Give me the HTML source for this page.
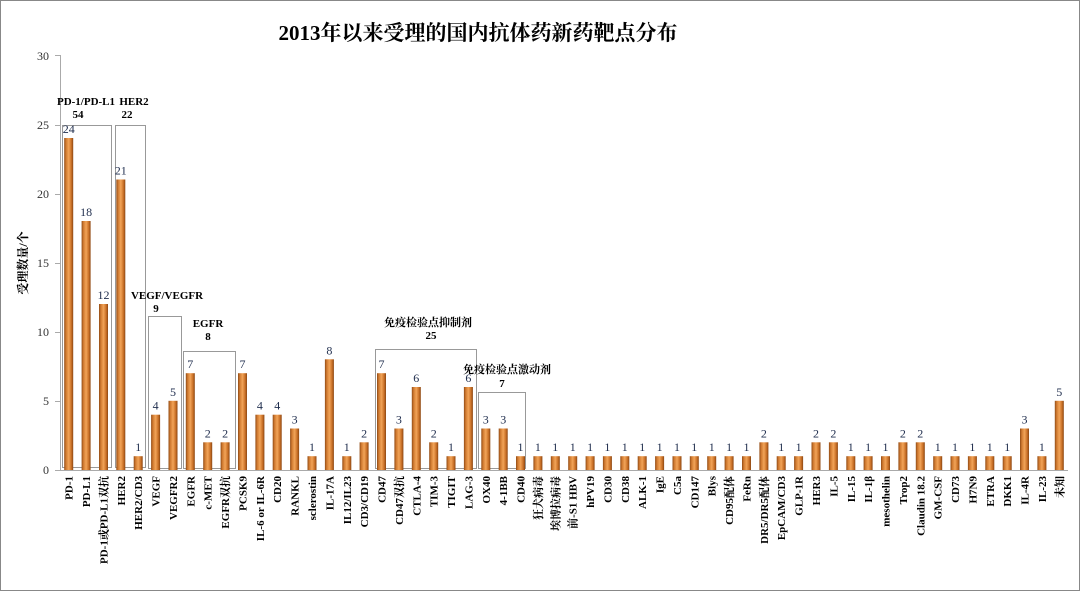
<!DOCTYPE html>
<html><head><meta charset="utf-8"><style>
body{margin:0;background:#fff}
svg{display:block;font-family:"Liberation Serif","Noto Serif CJK SC","Noto Sans CJK SC",serif}
.b{fill:url(#g)}
.v{font-size:12px;text-anchor:middle;fill:#1f2d4d}
.l{font-size:11px;font-weight:bold;text-anchor:end}
</style></head><body>
<svg width="1080" height="591" viewBox="0 0 1080 591">
<defs><linearGradient id="g" x1="0" x2="1"><stop offset="0" stop-color="#8f4a15"/><stop offset="0.2" stop-color="#d07a30"/><stop offset="0.5" stop-color="#f2a458"/><stop offset="0.8" stop-color="#c86f26"/><stop offset="1" stop-color="#8a4612"/></linearGradient></defs>
<rect x="0.5" y="0.5" width="1079" height="590" fill="#fff" stroke="#888"/>
<text x="478" y="40" font-size="21" font-weight="bold" text-anchor="middle">2013年以来受理的国内抗体药新药靶点分布</text>
<line x1="60.5" y1="55" x2="60.5" y2="471" stroke="#aaa"/>
<line x1="60" y1="470.5" x2="1068" y2="470.5" stroke="#aaa"/>
<g font-size="12" text-anchor="end" fill="#333">
<text x="49" y="474">0</text><text x="49" y="405">5</text><text x="49" y="336">10</text><text x="49" y="267">15</text><text x="49" y="198">20</text><text x="49" y="129">25</text><text x="49" y="60">30</text>
</g>
<g stroke="#aaa"><line x1="55" y1="470.5" x2="60" y2="470.5"/><line x1="55" y1="401.5" x2="60" y2="401.5"/><line x1="55" y1="332.5" x2="60" y2="332.5"/><line x1="55" y1="263.5" x2="60" y2="263.5"/><line x1="55" y1="194.5" x2="60" y2="194.5"/><line x1="55" y1="125.5" x2="60" y2="125.5"/><line x1="55" y1="55.5" x2="60" y2="55.5"/></g>
<text transform="translate(27,263) rotate(-90)" font-size="12" font-weight="bold" text-anchor="middle">受理数量/个</text>
<g fill="none" stroke="#999">
<rect x="62.5" y="125.5" width="49" height="342"/>
<rect x="115.5" y="125.5" width="30" height="342"/>
<rect x="148.5" y="316.5" width="33" height="152"/>
<rect x="183.5" y="351.5" width="52" height="117"/>
<rect x="375.5" y="349.5" width="101" height="119"/>
<rect x="478.5" y="392.5" width="47" height="76"/>
</g>
<g font-size="11" font-weight="bold" text-anchor="middle">
<text x="86" y="105">PD-1/PD-L1</text><text x="78" y="118">54</text>
<text x="134" y="105">HER2</text><text x="127" y="118">22</text>
<text x="167" y="299">VEGF/VEGFR</text><text x="156" y="312">9</text>
<text x="208" y="327">EGFR</text><text x="208" y="340">8</text>
<text x="428" y="326">免疫检验点抑制剂</text><text x="431" y="339">25</text>
<text x="507" y="373">免疫检验点激动剂</text><text x="502" y="387">7</text>
</g>
<g>
<rect class="b" x="64.2" y="138" width="9" height="332"/><text class="v" x="68.7" y="133">24</text>
<rect class="b" x="81.6" y="221" width="9" height="249"/><text class="v" x="86.1" y="216">18</text>
<rect class="b" x="99" y="304" width="9" height="166"/><text class="v" x="103.5" y="299">12</text>
<rect class="b" x="116.3" y="179.5" width="9" height="290.5"/><text class="v" x="120.8" y="174.5">21</text>
<rect class="b" x="133.7" y="456.2" width="9" height="13.8"/><text class="v" x="138.2" y="451">1</text>
<rect class="b" x="151.1" y="414.7" width="9" height="55.3"/><text class="v" x="155.6" y="409.7">4</text>
<rect class="b" x="168.5" y="400.8" width="9" height="69.2"/><text class="v" x="173" y="395.8">5</text>
<rect class="b" x="185.8" y="373.2" width="9" height="96.8"/><text class="v" x="190.3" y="368.2">7</text>
<rect class="b" x="203.2" y="442.3" width="9" height="27.7"/><text class="v" x="207.7" y="437.3">2</text>
<rect class="b" x="220.6" y="442.3" width="9" height="27.7"/><text class="v" x="225.1" y="437.3">2</text>
<rect class="b" x="238" y="373.2" width="9" height="96.8"/><text class="v" x="242.5" y="368.2">7</text>
<rect class="b" x="255.4" y="414.7" width="9" height="55.3"/><text class="v" x="259.9" y="409.7">4</text>
<rect class="b" x="272.7" y="414.7" width="9" height="55.3"/><text class="v" x="277.2" y="409.7">4</text>
<rect class="b" x="290.1" y="428.5" width="9" height="41.5"/><text class="v" x="294.6" y="423.5">3</text>
<rect class="b" x="307.5" y="456.2" width="9" height="13.8"/><text class="v" x="312" y="451">1</text>
<rect class="b" x="324.9" y="359.3" width="9" height="110.7"/><text class="v" x="329.4" y="354.3">8</text>
<rect class="b" x="342.3" y="456.2" width="9" height="13.8"/><text class="v" x="346.8" y="451">1</text>
<rect class="b" x="359.6" y="442.3" width="9" height="27.7"/><text class="v" x="364.1" y="437.3">2</text>
<rect class="b" x="377" y="373.2" width="9" height="96.8"/><text class="v" x="381.5" y="368.2">7</text>
<rect class="b" x="394.4" y="428.5" width="9" height="41.5"/><text class="v" x="398.9" y="423.5">3</text>
<rect class="b" x="411.8" y="387" width="9" height="83"/><text class="v" x="416.3" y="382">6</text>
<rect class="b" x="429.2" y="442.3" width="9" height="27.7"/><text class="v" x="433.7" y="437.3">2</text>
<rect class="b" x="446.5" y="456.2" width="9" height="13.8"/><text class="v" x="451" y="451">1</text>
<rect class="b" x="463.9" y="387" width="9" height="83"/><text class="v" x="468.4" y="382">6</text>
<rect class="b" x="481.3" y="428.5" width="9" height="41.5"/><text class="v" x="485.8" y="423.5">3</text>
<rect class="b" x="498.7" y="428.5" width="9" height="41.5"/><text class="v" x="503.2" y="423.5">3</text>
<rect class="b" x="516" y="456.2" width="9" height="13.8"/><text class="v" x="520.5" y="451">1</text>
<rect class="b" x="533.4" y="456.2" width="9" height="13.8"/><text class="v" x="537.9" y="451">1</text>
<rect class="b" x="550.8" y="456.2" width="9" height="13.8"/><text class="v" x="555.3" y="451">1</text>
<rect class="b" x="568.2" y="456.2" width="9" height="13.8"/><text class="v" x="572.7" y="451">1</text>
<rect class="b" x="585.6" y="456.2" width="9" height="13.8"/><text class="v" x="590.1" y="451">1</text>
<rect class="b" x="602.9" y="456.2" width="9" height="13.8"/><text class="v" x="607.4" y="451">1</text>
<rect class="b" x="620.3" y="456.2" width="9" height="13.8"/><text class="v" x="624.8" y="451">1</text>
<rect class="b" x="637.7" y="456.2" width="9" height="13.8"/><text class="v" x="642.2" y="451">1</text>
<rect class="b" x="655.1" y="456.2" width="9" height="13.8"/><text class="v" x="659.6" y="451">1</text>
<rect class="b" x="672.5" y="456.2" width="9" height="13.8"/><text class="v" x="677" y="451">1</text>
<rect class="b" x="689.8" y="456.2" width="9" height="13.8"/><text class="v" x="694.3" y="451">1</text>
<rect class="b" x="707.2" y="456.2" width="9" height="13.8"/><text class="v" x="711.7" y="451">1</text>
<rect class="b" x="724.6" y="456.2" width="9" height="13.8"/><text class="v" x="729.1" y="451">1</text>
<rect class="b" x="742" y="456.2" width="9" height="13.8"/><text class="v" x="746.5" y="451">1</text>
<rect class="b" x="759.4" y="442.3" width="9" height="27.7"/><text class="v" x="763.9" y="437.3">2</text>
<rect class="b" x="776.7" y="456.2" width="9" height="13.8"/><text class="v" x="781.2" y="451">1</text>
<rect class="b" x="794.1" y="456.2" width="9" height="13.8"/><text class="v" x="798.6" y="451">1</text>
<rect class="b" x="811.5" y="442.3" width="9" height="27.7"/><text class="v" x="816" y="437.3">2</text>
<rect class="b" x="828.9" y="442.3" width="9" height="27.7"/><text class="v" x="833.4" y="437.3">2</text>
<rect class="b" x="846.3" y="456.2" width="9" height="13.8"/><text class="v" x="850.8" y="451">1</text>
<rect class="b" x="863.6" y="456.2" width="9" height="13.8"/><text class="v" x="868.1" y="451">1</text>
<rect class="b" x="881" y="456.2" width="9" height="13.8"/><text class="v" x="885.5" y="451">1</text>
<rect class="b" x="898.4" y="442.3" width="9" height="27.7"/><text class="v" x="902.9" y="437.3">2</text>
<rect class="b" x="915.8" y="442.3" width="9" height="27.7"/><text class="v" x="920.3" y="437.3">2</text>
<rect class="b" x="933.2" y="456.2" width="9" height="13.8"/><text class="v" x="937.7" y="451">1</text>
<rect class="b" x="950.5" y="456.2" width="9" height="13.8"/><text class="v" x="955" y="451">1</text>
<rect class="b" x="967.9" y="456.2" width="9" height="13.8"/><text class="v" x="972.4" y="451">1</text>
<rect class="b" x="985.3" y="456.2" width="9" height="13.8"/><text class="v" x="989.8" y="451">1</text>
<rect class="b" x="1002.7" y="456.2" width="9" height="13.8"/><text class="v" x="1007.2" y="451">1</text>
<rect class="b" x="1020" y="428.5" width="9" height="41.5"/><text class="v" x="1024.5" y="423.5">3</text>
<rect class="b" x="1037.4" y="456.2" width="9" height="13.8"/><text class="v" x="1041.9" y="451">1</text>
<rect class="b" x="1054.8" y="400.8" width="9" height="69.2"/><text class="v" x="1059.3" y="395.8">5</text>
</g>
<g>
<text class="l" transform="translate(72.7,476) rotate(-90)">PD-1</text>
<text class="l" transform="translate(90.1,476) rotate(-90)">PD-L1</text>
<text class="l" transform="translate(107.5,476) rotate(-90)">PD-1或PD-L1双抗</text>
<text class="l" transform="translate(124.8,476) rotate(-90)">HER2</text>
<text class="l" transform="translate(142.2,476) rotate(-90)">HER2/CD3</text>
<text class="l" transform="translate(159.6,476) rotate(-90)">VEGF</text>
<text class="l" transform="translate(177,476) rotate(-90)">VEGFR2</text>
<text class="l" transform="translate(194.3,476) rotate(-90)">EGFR</text>
<text class="l" transform="translate(211.7,476) rotate(-90)">c-MET</text>
<text class="l" transform="translate(229.1,476) rotate(-90)">EGFR双抗</text>
<text class="l" transform="translate(246.5,476) rotate(-90)">PCSK9</text>
<text class="l" transform="translate(263.9,476) rotate(-90)">IL-6 or IL-6R</text>
<text class="l" transform="translate(281.2,476) rotate(-90)">CD20</text>
<text class="l" transform="translate(298.6,476) rotate(-90)">RANKL</text>
<text class="l" transform="translate(316,476) rotate(-90)">sclerostin</text>
<text class="l" transform="translate(333.4,476) rotate(-90)">IL-17A</text>
<text class="l" transform="translate(350.8,476) rotate(-90)">IL12/IL23</text>
<text class="l" transform="translate(368.1,476) rotate(-90)">CD3/CD19</text>
<text class="l" transform="translate(385.5,476) rotate(-90)">CD47</text>
<text class="l" transform="translate(402.9,476) rotate(-90)">CD47双抗</text>
<text class="l" transform="translate(420.3,476) rotate(-90)">CTLA-4</text>
<text class="l" transform="translate(437.7,476) rotate(-90)">TIM-3</text>
<text class="l" transform="translate(455,476) rotate(-90)">TIGIT</text>
<text class="l" transform="translate(472.4,476) rotate(-90)">LAG-3</text>
<text class="l" transform="translate(489.8,476) rotate(-90)">OX40</text>
<text class="l" transform="translate(507.2,476) rotate(-90)">4-1BB</text>
<text class="l" transform="translate(524.5,476) rotate(-90)">CD40</text>
<text class="l" transform="translate(541.9,476) rotate(-90)">狂犬病毒</text>
<text class="l" transform="translate(559.3,476) rotate(-90)">埃博拉病毒</text>
<text class="l" transform="translate(576.7,476) rotate(-90)">前-S1 HBV</text>
<text class="l" transform="translate(594.1,476) rotate(-90)">hPV19</text>
<text class="l" transform="translate(611.4,476) rotate(-90)">CD30</text>
<text class="l" transform="translate(628.8,476) rotate(-90)">CD38</text>
<text class="l" transform="translate(646.2,476) rotate(-90)">ALK-1</text>
<text class="l" transform="translate(663.6,476) rotate(-90)">IgE</text>
<text class="l" transform="translate(681,476) rotate(-90)">C5a</text>
<text class="l" transform="translate(698.3,476) rotate(-90)">CD147</text>
<text class="l" transform="translate(715.7,476) rotate(-90)">Blys</text>
<text class="l" transform="translate(733.1,476) rotate(-90)">CD95配体</text>
<text class="l" transform="translate(750.5,476) rotate(-90)">FeRn</text>
<text class="l" transform="translate(767.9,476) rotate(-90)">DR5/DR5配体</text>
<text class="l" transform="translate(785.2,476) rotate(-90)">EpCAM/CD3</text>
<text class="l" transform="translate(802.6,476) rotate(-90)">GLP-1R</text>
<text class="l" transform="translate(820,476) rotate(-90)">HER3</text>
<text class="l" transform="translate(837.4,476) rotate(-90)">IL-5</text>
<text class="l" transform="translate(854.8,476) rotate(-90)">IL-15</text>
<text class="l" transform="translate(872.1,476) rotate(-90)">IL-1β</text>
<text class="l" transform="translate(889.5,476) rotate(-90)">mesothelin</text>
<text class="l" transform="translate(906.9,476) rotate(-90)">Trop2</text>
<text class="l" transform="translate(924.3,476) rotate(-90)">Claudin 18.2</text>
<text class="l" transform="translate(941.7,476) rotate(-90)">GM-CSF</text>
<text class="l" transform="translate(959,476) rotate(-90)">CD73</text>
<text class="l" transform="translate(976.4,476) rotate(-90)">H7N9</text>
<text class="l" transform="translate(993.8,476) rotate(-90)">ETRA</text>
<text class="l" transform="translate(1011.2,476) rotate(-90)">DKK1</text>
<text class="l" transform="translate(1028.5,476) rotate(-90)">IL-4R</text>
<text class="l" transform="translate(1045.9,476) rotate(-90)">IL-23</text>
<text class="l" transform="translate(1063.3,476) rotate(-90)">未知</text>
</g>
</svg>
</body></html>
